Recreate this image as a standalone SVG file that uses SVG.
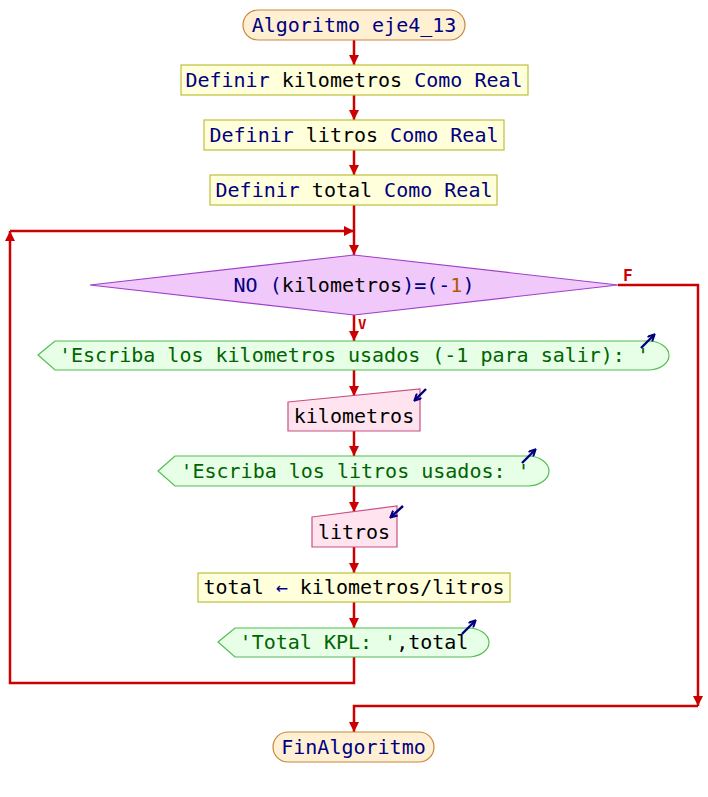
<svg xmlns="http://www.w3.org/2000/svg" width="708" height="797" viewBox="0 0 708 797">
<style>
text{font-family:"DejaVu Sans Mono","Liberation Mono",monospace;font-size:20px;text-anchor:middle}
.kw{fill:#000080}.id{fill:#000000}.str{fill:#006400}.num{fill:#b05a00}
.term{fill:#fff0d4;stroke:#c8863c;stroke-width:1.2}
.proc{fill:#ffffdc;stroke:#bebe3c;stroke-width:1.2}
.dec{fill:#f0c8fa;stroke:#a040c8;stroke-width:1.2}
.out{fill:#e6ffe6;stroke:#50be50;stroke-width:1.2}
.inp{fill:#ffe4f0;stroke:#c85082;stroke-width:1.2}
.con{fill:none;stroke:#cc0000;stroke-width:2.5}
.ico{fill:none;stroke:#000080;stroke-width:2.4}
.lbl{font-family:"DejaVu Sans Mono",monospace;font-size:16px;font-weight:bold;fill:#cc0000;text-anchor:start}
</style>
<defs>
<marker id="ah" viewBox="0 0 10 10" refX="10" refY="5" markerWidth="4" markerHeight="4" orient="auto" markerUnits="strokeWidth">
<path d="M0,0 L10,5 L0,10 Z" fill="#cc0000"/>
</marker>
<marker id="ih" viewBox="0 0 10 10" refX="8" refY="5" markerWidth="3.5" markerHeight="3.5" orient="auto" markerUnits="strokeWidth">
<path d="M1,1 L9,5 L1,9" fill="none" stroke="#000080" stroke-width="2.4"/>
</marker>
</defs>
<g id="connectors">
<path class="con" d="M354,40 V65" marker-end="url(#ah)"/>
<path class="con" d="M354,95 V120" marker-end="url(#ah)"/>
<path class="con" d="M354,150 V175" marker-end="url(#ah)"/>
<path class="con" d="M354,205 V255" marker-end="url(#ah)"/>
<path class="con" d="M354,315 V341" marker-end="url(#ah)"/>
<path class="con" d="M354,370 V396" marker-end="url(#ah)"/>
<path class="con" d="M354,431 V456" marker-end="url(#ah)"/>
<path class="con" d="M354,486 V512" marker-end="url(#ah)"/>
<path class="con" d="M354,547 V573" marker-end="url(#ah)"/>
<path class="con" d="M354,602 V628" marker-end="url(#ah)"/>
<path class="con" d="M354,657 V683 H10 V231" marker-end="url(#ah)"/>
<path class="con" d="M10,231 H354" marker-end="url(#ah)"/>
<path class="con" d="M618,285 H698 V706" marker-end="url(#ah)"/>
<path class="con" d="M698,706 H354 V732" marker-end="url(#ah)"/>
<text class="lbl" x="623" y="281">F</text>
<text class="lbl" x="358" y="329" style="font-size:14px">V</text>
</g>
<g id="start">
<rect class="term" x="243" y="10" width="222" height="30" rx="15"/>
<text x="354" y="32" class="kw">Algoritmo eje4_13</text>
</g>
<g id="def1">
<rect class="proc" x="181" y="65" width="347" height="30"/>
<text x="354" y="87"><tspan class="kw">Definir </tspan><tspan class="id">kilometros</tspan><tspan class="kw"> Como Real</tspan></text>
</g>
<g id="def2">
<rect class="proc" x="204" y="120" width="300" height="30"/>
<text x="354" y="142"><tspan class="kw">Definir </tspan><tspan class="id">litros</tspan><tspan class="kw"> Como Real</tspan></text>
</g>
<g id="def3">
<rect class="proc" x="210" y="175" width="287" height="30"/>
<text x="354" y="197"><tspan class="kw">Definir </tspan><tspan class="id">total</tspan><tspan class="kw"> Como Real</tspan></text>
</g>
<g id="cond">
<polygon class="dec" points="90,285 354,255 618,285 354,315"/>
<text x="354" y="292"><tspan class="kw">NO (</tspan><tspan class="id">kilometros</tspan><tspan class="kw">)=(-</tspan><tspan class="num">1</tspan><tspan class="kw">)</tspan></text>
</g>
<g id="out1">
<path class="out" d="M38,355 L55,341 H648 A21,14.5 0 0 1 648,370 H55 Z"/>
<text x="354" y="362" class="str">'Escriba los kilometros usados (-1 para salir): '</text>
<path class="ico" d="M641,348 L654,335" marker-end="url(#ih)"/>
</g>
<g id="in1">
<path class="inp" d="M288,402 L420,389 V431 H288 Z"/>
<text x="354" y="423" class="id">kilometros</text>
<path class="ico" d="M426,389 L415,400" marker-end="url(#ih)"/>
</g>
<g id="out2">
<path class="out" d="M158,471 L175,456 H528 A21,15 0 0 1 528,486 H175 Z"/>
<text x="355" y="478" class="str">'Escriba los litros usados: '</text>
<path class="ico" d="M522,463 L535,450" marker-end="url(#ih)"/>
</g>
<g id="in2">
<path class="inp" d="M312,517 L397,506 V547 H312 Z"/>
<text x="354" y="539" class="id">litros</text>
<path class="ico" d="M403,506 L391,517" marker-end="url(#ih)"/>
</g>
<g id="assign">
<rect class="proc" x="198" y="573" width="312" height="29"/>
<text x="354" y="594"><tspan class="id">total </tspan><tspan class="kw">←</tspan><tspan class="id"> kilometros/litros</tspan></text>
</g>
<g id="out3">
<path class="out" d="M218,642 L235,628 H468 A21,14.5 0 0 1 468,657 H235 Z"/>
<text x="354" y="649"><tspan class="str">'Total KPL: '</tspan><tspan class="id">,total</tspan></text>
<path class="ico" d="M462,634 L475,621" marker-end="url(#ih)"/>
</g>
<g id="end">
<rect class="term" x="273" y="732" width="161" height="30" rx="15"/>
<text x="353.5" y="754" class="kw">FinAlgoritmo</text>
</g>
</svg>
